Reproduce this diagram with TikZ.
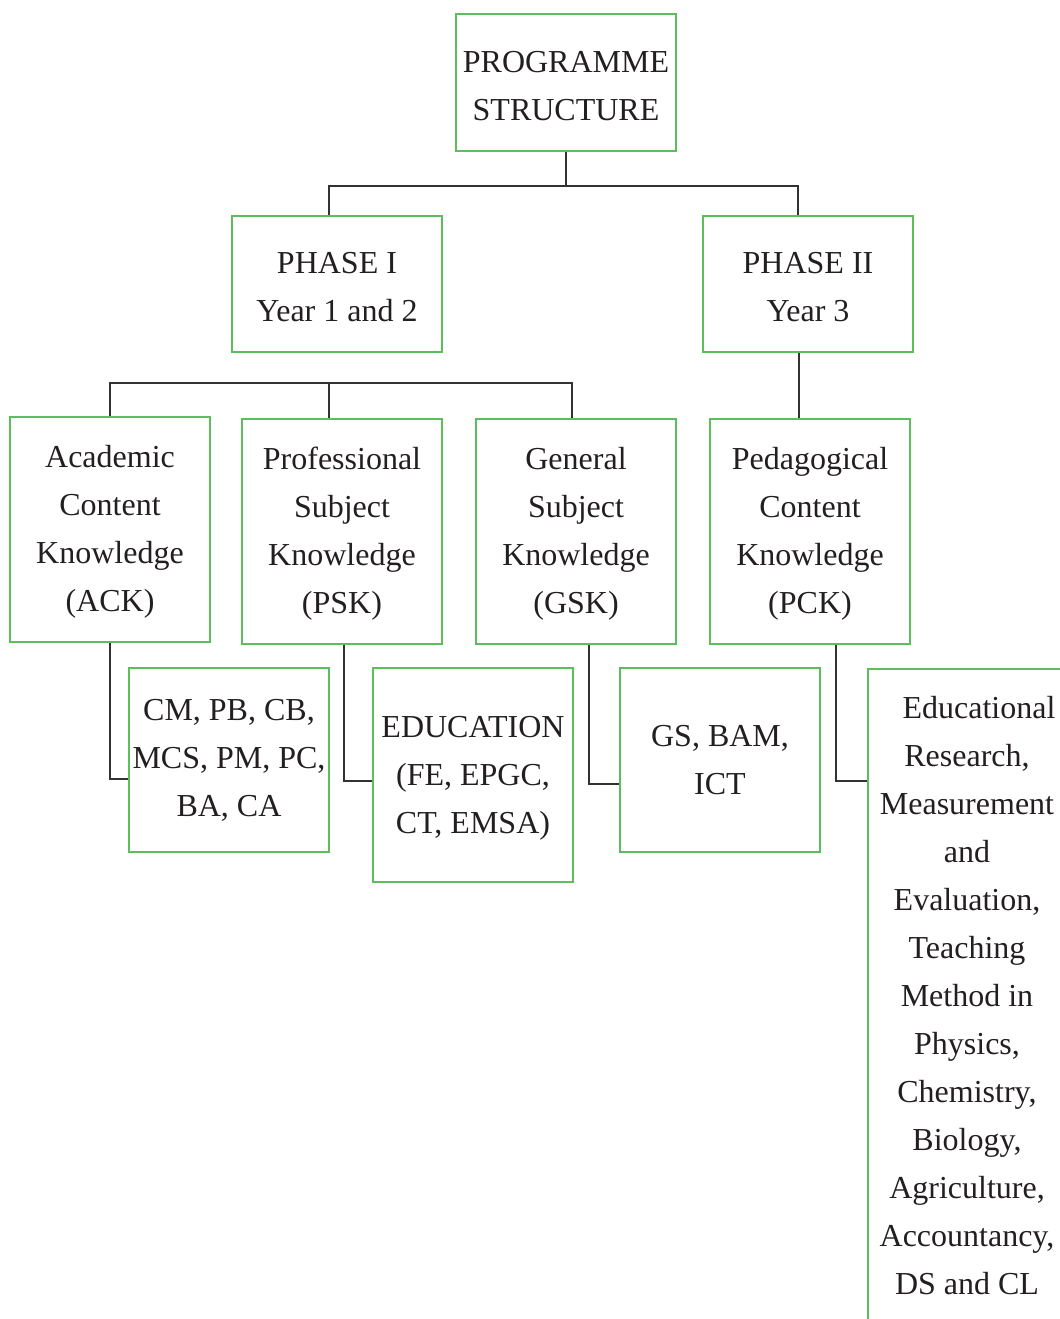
\documentclass[tikz,border=0pt]{standalone}
\usepackage{fontspec}
\setmainfont{Liberation Serif}
\definecolor{boxgreen}{RGB}{92,190,92}
\definecolor{ink}{RGB}{35,31,32}
\definecolor{connc}{RGB}{50,50,50}
\newcommand\dn{\rule{0pt}{20.5pt}}
\begin{document}
\begin{tikzpicture}[x=0.75pt,y=-0.75pt,
  box/.style={draw=boxgreen,line width=1.1pt,inner sep=0pt,align=center,text=ink,
    font=\fontsize{24pt}{36pt}\selectfont},
  conn/.style={draw=connc,line width=1.1pt}]
\useasboundingbox (0,0) rectangle (1059,1319);
% level 0
\node[box,minimum width=165pt,minimum height=102.75pt] (prog) at (566,82.5) {\dn PROGRAMME\\STRUCTURE};
% level 1
\node[box,minimum width=157.5pt,minimum height=102pt] (ph1) at (337,284) {\dn PHASE I\\Year 1 and 2};
\node[box,minimum width=157.5pt,minimum height=102pt] (ph2) at (808,284) {\dn PHASE II\\Year 3};
% level 2
\node[box,minimum width=150pt,minimum height=168.75pt] (ack) at (110,529.5) {\dn Academic\\Content\\Knowledge\\(ACK)};
\node[box,minimum width=150pt,minimum height=168.75pt] (psk) at (342,531.5) {\dn Professional\\Subject\\Knowledge\\(PSK)};
\node[box,minimum width=150pt,minimum height=168.75pt] (gsk) at (576,531.5) {\dn General\\Subject\\Knowledge\\(GSK)};
\node[box,minimum width=150pt,minimum height=168.75pt] (pck) at (810,531.5) {\dn Pedagogical\\Content\\Knowledge\\(PCK)};
% level 3
\node[box,minimum width=150pt,minimum height=138pt] (cm) at (229,760) {CM, PB, CB,\\MCS, PM, PC,\\BA, CA};
\node[box,minimum width=150pt,minimum height=160.5pt] (edu) at (473,775) {\dn EDUCATION\\(FE, EPGC,\\CT, EMSA)};
\node[box,minimum width=150pt,minimum height=138pt] (gs) at (720,760) {GS, BAM,\\ICT};
\node[box,line width=1.5pt,anchor=north west,minimum width=170pt,minimum height=525pt] (er) at (867.4,668) {};
\node[align=center,text=ink,inner sep=0pt,font=\fontsize{24pt}{36pt}\selectfont] (ertext) at (967,996)
 {\hspace*{18pt}Educational\\Research,\\Measurement\\and\\Evaluation,\\Teaching\\Method in\\Physics,\\Chemistry,\\Biology,\\Agriculture,\\Accountancy,\\DS and CL};
% connectors
\draw[conn] (prog.south) -- (prog.south |- 0,186);
\draw[conn] (ph1.north -| 329,0) |- (prog.south |- 0,186) -| (ph2.north -| 798,0);
\draw[conn] (ph1.south -| 329,0) -- (ph1.south -| 329,0 |- 0,383);
\draw[conn] (ack.north) |- (329,383) -| (gsk.north -| 572,0);
\draw[conn] (329,383) -- (psk.north -| 329,0);
\draw[conn] (ph2.south -| 799,0) -- (pck.north -| 799,0);
\draw[conn] (ack.south) |- (cm.west |- 0,779);
\draw[conn] (psk.south -| 344,0) |- (edu.west |- 0,781);
\draw[conn] (gsk.south -| 589,0) |- (gs.west |- 0,784);
\draw[conn] (pck.south -| 836,0) |- (er.west |- 0,781);
\end{tikzpicture}
\end{document}
